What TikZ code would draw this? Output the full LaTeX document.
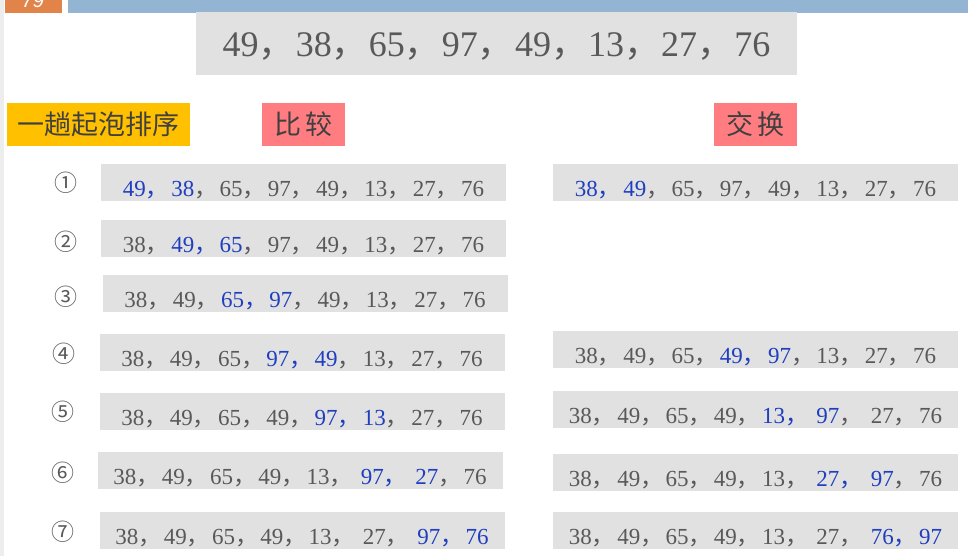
\documentclass[tikz,border=0pt]{standalone}
\usepackage{fontspec}
\setmainfont{Liberation Serif}
\newfontfamily\cjk{Noto Sans CJK SC}
\newfontfamily\pagefont{Liberation Sans}
\definecolor{boxgray}{HTML}{E1E1E1}
\definecolor{txtgray}{HTML}{595959}
\definecolor{hlblue}{HTML}{1F3FBF}
\definecolor{lblgold}{HTML}{FFC000}
\definecolor{lblpink}{HTML}{FF7C80}
\definecolor{barblue}{HTML}{93B4D3}
\definecolor{barorange}{HTML}{E2844A}
\newlength\dousep
\newcommand{\dou}{\makebox[\dousep][l]{\cjk ，}}
\newcommand{\douw}{\makebox[\dimexpr\dousep+6pt\relax][l]{\cjk ，}}
\newcommand{\blu}[1]{\textcolor{hlblue}{#1}}
\tikzset{
  seqbox/.style={fill=boxgray, text=txtgray, inner sep=0pt, minimum width=405pt,
    text height=32.5pt, text depth=4.5pt,
    font=\fontsize{23}{23}\selectfont\setlength\dousep{1.1em}},
  tagbox/.style={inner sep=0pt, minimum height=43pt, text=black!75,
    font=\cjk\fontsize{27}{27}\selectfont},
  stepnum/.style={text=black!65, font=\cjk\fontsize{23}{23}\selectfont}
}
\begin{document}
\begin{tikzpicture}[x=1pt, y=-1pt]
  \useasboundingbox (0,0) rectangle (968,556);
  
  % Page frame
  \fill[black!7] (0,0) rectangle (4,556);
  \fill[barorange] (5,0) rectangle (62,13);
  \fill[barblue] (68,0) rectangle (968,13);
  \node[text=white, font=\pagefont\itshape\fontsize{20}{20}\selectfont, anchor=base] (page) at (33,8) {79};
  
  % Sequence
  \node[fill=boxgray, text=txtgray, inner sep=0pt, minimum width=601pt,
    text height=45pt, text depth=18pt,
    font=\fontsize{36}{36}\selectfont\setlength\dousep{1.03em}] (seq) at (496.5,43.5)
    {49\dou 38\dou 65\dou 97\dou 49\dou 13\dou 27\dou 76};
  
  % Headings
  \node[tagbox, fill=lblgold, minimum width=183pt] (pass) at (98.5,124.5) {一趟起泡排序};
  \node[tagbox, fill=lblpink, minimum width=83pt] (cmp) at (303.5,124.5) {比\,较};
  \node[tagbox, fill=lblpink, minimum width=83pt] (swp) at (755.5,124.5) {交\,换};
  
  % Step numbers
  \foreach \i/\s/\x/\y in {1/①/66/183, 2/②/66/242, 3/③/66/297, 4/④/64/354,
                          5/⑤/63/412, 6/⑥/63/473, 7/⑦/63/532}
    \node[stepnum] (n\i) at (\x,\y) {\s};
  
  % Compare
  \node[seqbox] (c1) at (303.5,182.5) {\blu{49\dou 38}\dou 65\dou 97\dou 49\dou 13\dou 27\dou 76};
  \node[seqbox] (c2) at (303.5,238) {38\dou \blu{49\dou 65}\dou 97\dou 49\dou 13\dou 27\dou 76};
  \node[seqbox] (c3) at (305,293.5) {38\dou 49\dou \blu{65\dou 97}\dou 49\dou 13\dou 27\dou 76};
  \node[seqbox] (c4) at (302,352) {38\dou 49\dou 65\dou \blu{97\dou 49}\dou 13\dou 27\dou 76};
  \node[seqbox] (c5) at (302,411) {38\dou 49\dou 65\dou 49\dou \blu{97\dou 13}\dou 27\dou 76};
  \node[seqbox] (c6) at (300,470) {38\dou 49\dou 65\dou 49\dou 13\douw \blu{97\douw 27}\dou 76};
  \node[seqbox] (c7) at (302,530) {38\dou 49\dou 65\dou 49\dou 13\douw 27\douw \blu{97\dou 76}};
  
  % Swap
  \node[seqbox] (s1) at (755.5,182.5) {\blu{38\dou 49}\dou 65\dou 97\dou 49\dou 13\dou 27\dou 76};
  \node[seqbox] (s4) at (755.5,349.5) {38\dou 49\dou 65\dou \blu{49\dou 97}\dou 13\dou 27\dou 76};
  \node[seqbox] (s5) at (755.5,409.5) {38\dou 49\dou 65\dou 49\dou \blu{13\douw 97}\douw 27\dou 76};
  \node[seqbox] (s6) at (755.5,472.5) {38\dou 49\dou 65\dou 49\dou 13\douw \blu{27\douw 97}\dou 76};
  \node[seqbox] (s7) at (755.5,530.5) {38\dou 49\dou 65\dou 49\dou 13\douw 27\douw \blu{76\dou 97}};
\end{tikzpicture}
\end{document}
